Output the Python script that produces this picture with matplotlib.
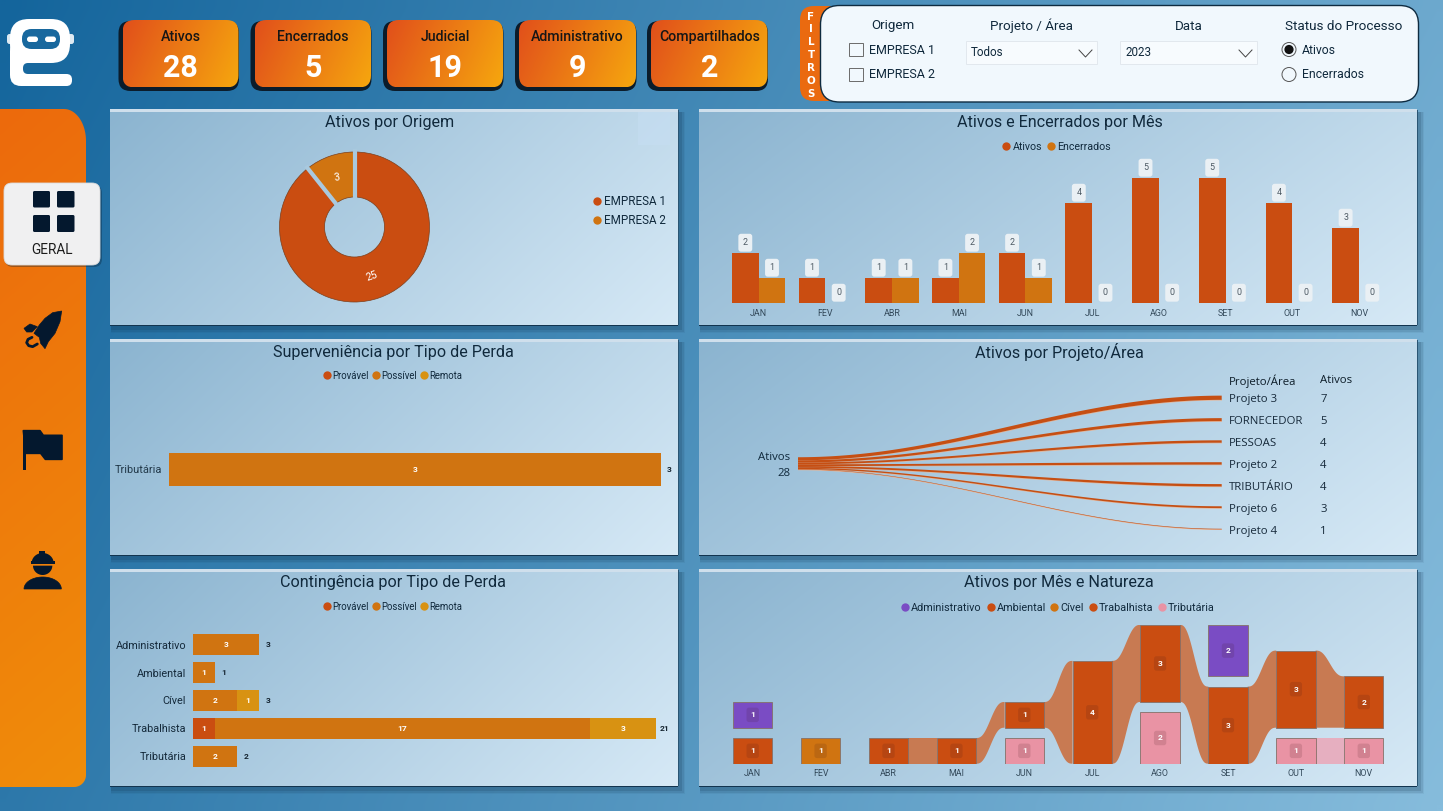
import numpy as np
import matplotlib
matplotlib.use("Agg")
import matplotlib.pyplot as plt
from matplotlib.patches import FancyBboxPatch, PathPatch, Polygon, Rectangle, Circle, Ellipse
from matplotlib.path import Path
from matplotlib.colors import to_rgb
from matplotlib import font_manager as fm

avail = {f.name for f in fm.fontManager.ttflist}
NARROW = 'Liberation Sans Narrow' if 'Liberation Sans Narrow' in avail else 'Roboto'
plt.rcParams['font.family'] = ['Roboto', 'DejaVu Sans']

# ---------- data ----------
kpi_names = ['Ativos', 'Encerrados', 'Judicial', 'Administrativo', 'Compartilhados']
kpi_values = [28, 5, 19, 9, 2]

origem_names = ['EMPRESA 1', 'EMPRESA 2']
origem_values = [25, 3]

months = ['JAN', 'FEV', 'ABR', 'MAI', 'JUN', 'JUL', 'AGO', 'SET', 'OUT', 'NOV']
ativos_mes = [2, 1, 1, 1, 2, 4, 5, 5, 4, 3]
encerrados_mes = [1, 0, 1, 2, 1, 0, 0, 0, 0, 0]

perda_names = ['Provável', 'Possível', 'Remota']
superv_cats = ['Tributária']
superv_provavel = [0]
superv_possivel = [3]
superv_remota = [0]

cont_cats = ['Administrativo', 'Ambiental', 'Cível', 'Trabalhista', 'Tributária']
cont_provavel = [0, 0, 0, 1, 0]
cont_possivel = [3, 1, 2, 17, 2]
cont_remota = [0, 0, 1, 3, 0]

projetos = ['Projeto 3', 'FORNECEDOR', 'PESSOAS', 'Projeto 2', 'TRIBUTÁRIO', 'Projeto 6', 'Projeto 4']
projetos_ativos = [7, 5, 4, 4, 4, 3, 1]

nat_administrativo = [1, 0, 0, 0, 0, 0, 0, 2, 0, 0]
nat_ambiental = [1, 0, 0, 0, 0, 0, 0, 0, 0, 0]
nat_civel = [0, 1, 0, 0, 0, 0, 0, 0, 0, 0]
nat_trabalhista = [0, 0, 1, 1, 1, 4, 3, 3, 3, 2]
nat_tributaria = [0, 0, 0, 0, 1, 0, 2, 0, 1, 1]
# bottom-to-top order of the natures in each month
nat_order = [['Ambiental', 'Administrativo'], ['Cível'], ['Trabalhista'], ['Trabalhista'],
             ['Tributária', 'Trabalhista'], ['Trabalhista'], ['Tributária', 'Trabalhista'],
             ['Trabalhista', 'Administrativo'], ['Tributária', 'Trabalhista'],
             ['Tributária', 'Trabalhista']]

# ---------- style ----------
W, H = 1443, 811
C_PROV = '#ca4d11'
C_POSS = '#d07411'
C_REM = '#d89212'
C_PINK = '#e993a4'
C_PURP = '#7a4cc4'
C_TEXT = '#10293c'
NAVY = '#04182e'

fig = plt.figure(figsize=(W / 100, H / 100), dpi=100)
root = fig.add_axes([0, 0, 1, 1], zorder=0)
root.set_xlim(0, W)
root.set_ylim(H, 0)
root.axis('off')


def ax_px(x0, y0, x1, y1):
    a = fig.add_axes([x0 / W, 1 - y1 / H, (x1 - x0) / W, (y1 - y0) / H], zorder=2)
    a.patch.set_visible(False)
    for s in a.spines.values():
        s.set_visible(False)
    a.tick_params(length=0)
    return a


def grad(x0, y0, x1, y1, c0, c1, wx=0.7, wy=0.3, clip=None, z=1):
    nx, ny = 128, 64
    xx, yy = np.meshgrid(np.linspace(0, 1, nx), np.linspace(0, 1, ny))
    t = (wx * xx + wy * yy)[..., None]
    img = np.array(to_rgb(c0)) * (1 - t) + np.array(to_rgb(c1)) * t
    im = root.imshow(img, extent=(x0, x1, y1, y0), aspect='auto', zorder=z, interpolation='bilinear')
    if clip is not None:
        im.set_clip_path(clip)
    root.set_xlim(0, W)
    root.set_ylim(H, 0)
    return im


def rbox(x0, y0, x1, y1, r, fc='none', ec='none', lw=0, z=2, alpha=None):
    p = FancyBboxPatch((x0, y0), x1 - x0, y1 - y0, boxstyle=f'round,pad=0,rounding_size={r}',
                       fc=fc, ec=ec, lw=lw, zorder=z, alpha=alpha)
    root.add_patch(p)
    return p


def T(x, y, s, size=8, color=C_TEXT, ha='center', weight='normal', z=6, family=None, **k):
    if family:
        k['family'] = family
    return root.text(x, y + 1, s, fontsize=size, color=color, ha=ha, va='center', weight=weight, zorder=z, **k)


def dots(items, y, size=6.5):
    for dx, tx, c, s in items:
        root.plot([dx], [y], 'o', ms=6, color=c, mec='none', zorder=6)
        T(tx, y, s, size=size, ha='left')


# page background
grad(0, 0, W, H, '#14659c', '#86bcdc', wx=0.78, wy=0.22, z=0)

# logo
LOGO_BG = '#18689e'
rbox(7, 34, 13, 44, 2.5, fc='#dfeaf2', z=2)
rbox(67, 34, 74, 44, 2.5, fc='#dfeaf2', z=2)
rbox(10, 19, 70, 63, 19, fc='white', z=3)
rbox(10, 40, 36, 86, 11, fc='white', z=3)
rbox(20, 74, 72, 86, 5.5, fc='white', z=3)
rbox(23, 63, 42, 74, 5, fc=LOGO_BG, z=3.5)
rbox(22, 29, 60, 49, 9.5, fc=LOGO_BG, z=4)
rbox(27, 36.5, 38, 42, 2.7, fc='white', z=5)
rbox(45, 36.5, 56, 42, 2.7, fc='white', z=5)

# KPI cards
kpi_x = [(122.5, 238.5), (254.5, 371), (387, 503), (519, 636), (651, 767.5)]
for (x0, x1), n, v in zip(kpi_x, kpi_names, kpi_values):
    rbox(x0 - 4, 21, x1 + 0.5, 91, 12, fc='#0b1c2b', z=2)
    p = rbox(x0, 20, x1, 87.5, 12, fc='none', z=3)
    grad(x0, 20, x1, 87.5, '#e14f1b', '#f6a70e', wx=0.8, wy=0.2, clip=p, z=3)
    T((x0 + x1) / 2, 36, n, size=10.2, color='#161616', weight='medium')
    T((x0 + x1) / 2, 67, str(v), size=22, color='white', weight='bold', family=NARROW)

# side bar
def sidebar_path(x1=86, y0=109, y1=787):
    a = np.linspace(0, np.pi / 2, 30)
    pts = [(0, y0)]
    pts += [(x1 - 22 + 22 * np.sin(t), y0 + 32 - 32 * np.cos(t)) for t in a]
    pts += [(x1 - 12 + 12 * np.cos(t), y1 - 12 + 12 * np.sin(t)) for t in a]
    pts += [(0, y1)]
    return pts


sb = Polygon(sidebar_path(), closed=True, fc='none', ec='none', zorder=2)
root.add_patch(sb)
grad(0, 109, 86, 787, '#ec6a0d', '#f08d0a', wx=0.1, wy=0.9, clip=sb, z=2)

# active button
rbox(5, 185, 102, 267, 8, fc='#0b2336', alpha=0.35, z=3)
rbox(4, 183, 100, 265, 8, fc='#f0f0f1', ec='#dcdcdc', lw=0.6, z=3)
for (xa, xb) in [(33, 50), (57, 74.5)]:
    for (ya, yb) in [(191, 207.5), (215, 232)]:
        rbox(xa, ya, xb, yb, 1.5, fc=NAVY, z=4)
T(51.5, 249.5, 'GERAL', size=9.8, color='#1c1c1c')

# rocket icon
ox, oy = 10, 300
def zp(pts):
    return [(ox + x / 3, oy + y / 3) for x, y in pts]
rocket = [(155, 33), (128, 38), (105, 55), (88, 75), (72, 100), (88, 112), (92, 130), (105, 146), (115, 125),
          (135, 100), (150, 65)]
root.add_patch(Polygon(zp(rocket), closed=True, fc=NAVY, ec=NAVY, lw=0.5, zorder=4))
root.add_patch(Polygon(zp([(42, 85), (60, 72), (82, 80), (66, 96), (50, 96)]), closed=True, fc=NAVY, ec=NAVY,
                       lw=0.5, zorder=4))
hook = np.array(zp([(66, 112), (54, 118), (50, 128), (56, 137), (68, 140), (82, 132)]))
root.plot(hook[:, 0], hook[:, 1], color=NAVY, lw=2, solid_capstyle='round', zorder=4)

# flag icon
ox, oy = 10, 420
root.add_patch(Polygon(zp([(40, 32), (90, 32), (100, 46), (156, 46), (156, 118), (106, 118), (92, 100), (47, 100)]),
                       closed=True, fc=NAVY, ec=NAVY, lw=1.2, joinstyle='round', zorder=4))
root.add_patch(Rectangle((ox + 38 / 3, oy + 30 / 3), 9 / 3, 120 / 3, fc=NAVY, ec='none', zorder=4))

# helmet icon
ox, oy = 10, 545
th = np.linspace(np.pi, 2 * np.pi, 40)
dome = [(98 + 33 * np.cos(t), 54 + 30 * np.sin(t)) for t in th]
root.add_patch(Polygon(zp(dome), closed=True, fc=NAVY, ec='none', zorder=4))
root.add_patch(Rectangle((ox + 64 / 3, oy + 49 / 3), 72 / 3, 7 / 3, fc=NAVY, ec='none', zorder=4))
root.add_patch(Rectangle((ox + 88 / 3, oy + 19 / 3), 18 / 3, 20 / 3, fc=NAVY, ec='none', zorder=4))
th2 = np.linspace(0, np.pi, 30)
face = [(98 + 29 * np.cos(t), 62 + 28 * np.sin(t)) for t in th2]
root.add_patch(Polygon(zp(face), closed=True, fc=NAVY, ec='none', zorder=4))
body = [(98 + 56 * np.cos(t), 132 - 36 * np.sin(t)) for t in th2]
root.add_patch(Polygon(zp(body), closed=True, fc=NAVY, ec=NAVY, lw=0.5, zorder=4))

# filter panel
rbox(800, 6, 850, 101, 14, fc='#ea6a10', z=2)
for i, ch in enumerate('FILTROS'):
    T(811, 15.5 + i * 12.9, ch, size=7.4, color='white', weight='bold', family='DejaVu Sans')
rbox(820.5, 5.5, 1418.5, 102, 19, fc='#f1f8fd', ec='#0e2b40', lw=1.0, z=3)
T(893, 25, 'Origem', size=9.6)
T(1031, 25, 'Projeto / Área', size=9.6)
T(1188.5, 25, 'Data', size=9.6)
T(1344, 25, 'Status do Processo', size=9.7)
for y, n in zip([49, 74], origem_names):
    root.add_patch(Rectangle((849, y - 6.5), 13.5, 13.5, fc='none', ec='#6a6a6a', lw=0.7, zorder=5))
    T(869, y, n, size=9, ha='left')
for x0, x1, s in [(965.5, 1097, 'Todos'), (1120, 1257, '2023')]:
    root.add_patch(Rectangle((x0, 41), x1 - x0, 22.5, fc='#f7fbfe', ec='#e2e8ee', lw=0.7, zorder=5))
    T(x0 + 5, 52, s, size=8.4, ha='left')
    root.plot([x1 - 18, x1 - 11.5, x1 - 5], [50, 57, 50], color='#444444', lw=0.7, zorder=6)
root.add_patch(Circle((1289, 49.5), 7, fc='none', ec='#555555', lw=0.7, zorder=5))
root.add_patch(Circle((1289, 49.5), 4.6, fc='#111111', ec='none', zorder=5))
root.add_patch(Circle((1289, 74.5), 7, fc='none', ec='#555555', lw=0.7, zorder=5))
T(1302, 49, 'Ativos', size=8.8, ha='left')
T(1302, 74, 'Encerrados', size=8.8, ha='left')

# chart panels
panels = [(110, 110, 678, 325), (699, 110, 1417, 325), (110, 340, 678, 555),
          (699, 340, 1417, 555), (110, 570, 678, 786), (699, 570, 1417, 786)]
for x0, y0, x1, y1 in panels:
    for d, a in [(6, 0.06), (4.5, 0.1), (3, 0.15)]:
        root.add_patch(Rectangle((x0 + 1, y0 + 2), x1 - x0 + d, y1 - y0 + d, fc='#0d2c45', alpha=a, ec='none', zorder=1))
    grad(x0, y0, x1, y1, '#8bb4d0', '#d6e9f6', wx=0.72, wy=0.28, z=2)
    root.add_patch(Rectangle((x0, y0 - 1), x1 - x0, 2.5, fc='#cfdfec', ec='none', zorder=3))
    root.add_patch(Rectangle((x0, y1 - 0.5), x1 - x0, 1.6, fc='#12344f', ec='none', zorder=3))
    root.add_patch(Rectangle((x1, y0), 1.4, y1 - y0, fc='#2a5573', ec='none', zorder=3))
root.add_patch(Rectangle((638, 112), 32, 33, fc='#c6def3', ec='none', alpha=0.5, zorder=3))

title_y = [121, 121, 351, 351, 582, 582]
title_x = [390, 1059.5, 393, 1059.5, 393, 1059]
titles = ['Ativos por Origem', 'Ativos e Encerrados por Mês', 'Superveniência por Tipo de Perda',
          'Ativos por Projeto/Área', 'Contingência por Tipo de Perda', 'Ativos por Mês e Natureza']
for xc, y, s in zip(title_x, title_y, titles):
    T(xc, y, s, size=11.6)

# --- donut ---
ax = ax_px(279.5, 152, 429.5, 302)
ax.set_xlim(-1, 1)
ax.set_ylim(-1, 1)
ax.set_aspect('equal')
wedges, _, autot = ax.pie(origem_values, colors=[C_PROV, C_POSS], startangle=90, counterclock=False, radius=1,
                          autopct=lambda p: f'{p * sum(origem_values) / 100:.0f}',
                          pctdistance=0.7, wedgeprops=dict(width=0.6, edgecolor='#7c3f1c', linewidth=0.5),
                          textprops=dict(color='white', fontsize=7.5), frame=False)
ax.set_xlim(-1, 1)
ax.set_ylim(-1, 1)
autot[0].set_rotation(20)
autot[1].set_rotation(10)
# gaps between slices, at the slice boundaries
bounds = 90 - 360 * np.cumsum(origem_values) / sum(origem_values)
for b in bounds:
    ra = np.radians(b)
    ax.plot([0.36 * np.cos(ra), 1.04 * np.cos(ra)], [0.36 * np.sin(ra), 1.04 * np.sin(ra)], color='#a9c9de', lw=3.0,
            solid_capstyle='butt', clip_on=False, zorder=3)
dots([(597.4, 604, C_PROV, origem_names[0])], 200.6, size=8.4)
dots([(597.4, 604, C_POSS, origem_names[1])], 219.6, size=8.4)

# --- monthly bars ---
ax = ax_px(725.3, 178, 1392.3, 303)
x = np.arange(len(months))
ax.set_xlim(-0.5, len(months) - 0.5)
ax.set_ylim(0, max(ativos_mes))
ax.set_yticks([])
ax.set_xticks(x, months)
ax.tick_params(axis='x', labelsize=6.4, labelcolor='#33495a', pad=4.5)
for off, vals, c in [(-0.2, ativos_mes, C_PROV), (0.2, encerrados_mes, C_POSS)]:
    ax.bar(x + off, vals, width=0.4, color=c)
    for xi, v in zip(x + off, vals):
        ax.annotate(str(v), (xi, v), xytext=(0, 7.4), textcoords='offset points', ha='center', va='center',
                    fontsize=6.4, color='#4d5a64', annotation_clip=False,
                    bbox=dict(boxstyle='round,pad=0.5,rounding_size=0.3', fc='#eaf0f4', ec='none'))
dots([(1005.8, 1012.5, C_PROV, 'Ativos'), (1051, 1057, C_POSS, 'Encerrados')], 146, size=7.7)

# --- superveniência ---
def hstack(ax, cats, prov, poss, rem, inner_size=6, total_pad=6):
    ys = np.arange(len(cats))
    left = np.zeros(len(cats))
    for vals, c in [(prov, C_PROV), (poss, C_POSS), (rem, C_REM)]:
        vals = np.array(vals, float)
        ax.barh(ys, vals, left=left, height=0.76, color=c)
        for yi, l, v in zip(ys, left, vals):
            if v > 0:
                ax.text(l + v / 2, yi, f'{v:.0f}', ha='center', va='center', color='white',
                        fontsize=inner_size, weight='bold')
        left = left + vals
    for yi, t in zip(ys, left):
        ax.annotate(f'{t:.0f}', (t, yi), xytext=(total_pad, 0), textcoords='offset points', ha='center', va='center',
                    fontsize=inner_size, weight='bold', color='#14232f', annotation_clip=False)
    ax.set_yticks(ys, cats)
    ax.set_xticks([])
    ax.invert_yaxis()


ax = ax_px(169, 447.5, 661, 491)
hstack(ax, superv_cats, superv_provavel, superv_possivel, superv_remota)
ax.set_xlim(0, 3)
ax.set_ylim(0.5, -0.5)
ax.tick_params(axis='y', labelsize=7.9, labelcolor='#22394a', pad=5)
for y in [375, 606]:
    dots([(326.5, 332, C_PROV, perda_names[0]), (376, 381.5, C_POSS, perda_names[1]),
          (423.5, 429, C_REM, perda_names[2])], y, size=6.9)

# --- contingência ---
ax = ax_px(193, 630.7, 656, 770.3)
hstack(ax, cont_cats, cont_provavel, cont_possivel, cont_remota, inner_size=6, total_pad=6.5)
ax.set_xlim(0, 21)
ax.set_ylim(4.5, -0.5)
ax.tick_params(axis='y', labelsize=7.8, labelcolor='#14293a', pad=5)

# --- decomposition / sankey ---
ax = ax_px(797.6, 386.8, 1221.7, 540)
ax.set_xlim(0, 1)
ax.set_ylim(6.5, -0.5)
ax.axis('off')
row_px = 21.88
total = sum(projetos_ativos)
src_unit = 0.44 / row_px
dst_unit = 0.6 / row_px
xs = np.linspace(0, 1, 200)
ease = (1 - np.cos(np.pi * xs)) / 2
cum = 3 - total * src_unit / 2
for i, (n, v) in enumerate(zip(projetos, projetos_ativos)):
    src_c = cum + v * src_unit / 2
    cum += v * src_unit
    ctr = src_c + (i - src_c) * ease
    half = (v * src_unit + (v * dst_unit - v * src_unit) * ease) / 2
    ax.fill_between(xs, ctr - half, ctr + half, color='#c64f13', ec='none', zorder=3)
    ax.plot(xs, ctr + half + 0.012, color='#eeb18c', lw=0.5, zorder=2)
    ax.annotate(n, (1, i), xytext=(5.3, -1.4), textcoords='offset points', ha='left', va='center', fontsize=8.2,
                family='Open Sans', color='#16293a', annotation_clip=False)
    ax.annotate(str(v), (1, i), xytext=(71, -1.4), textcoords='offset points', ha='left', va='center', fontsize=8.2,
                family='Open Sans', color='#16293a', annotation_clip=False)
ax.annotate('Projeto/Área', (1, -0.82), xytext=(5.3, -0.8), textcoords='offset points', ha='left', va='center',
            fontsize=8.2, family='Open Sans', color='#0c1c28', annotation_clip=False)
ax.annotate('Ativos', (1, -0.82), xytext=(71, -0.8), textcoords='offset points', ha='left', va='center',
            fontsize=8.2, family='Open Sans', color='#0c1c28', annotation_clip=False)
T(790.5, 456.5, 'Ativos', size=8.2, ha='right', family='Open Sans')
T(790.5, 472, str(total), size=8.2, ha='right', family='Open Sans')

# --- ribbon chart ---
nat_series = {'Administrativo': nat_administrativo, 'Ambiental': nat_ambiental, 'Cível': nat_civel,
              'Trabalhista': nat_trabalhista, 'Tributária': nat_tributaria}
nat_colors = {'Administrativo': C_PURP, 'Ambiental': C_PROV, 'Cível': C_POSS, 'Trabalhista': C_PROV,
              'Tributária': C_PINK}
ribbon_colors = {'Trabalhista': '#c87a52', 'Tributária': '#e6afc0'}
ax = ax_px(718.75, 624.9, 1397.75, 763.7)
ax.set_xlim(-0.5, len(months) - 0.5)
ax.set_ylim(0, 5.4)
ax.set_yticks([])
ax.set_xticks(np.arange(len(months)), months)
ax.tick_params(axis='x', labelsize=6.4, labelcolor='#33495a', pad=4)
gap = 0.4
bw = 0.579
pos = []
for m, order in enumerate(nat_order):
    base = 0.0
    place = {}
    for n in order:
        v = nat_series[n][m]
        place[n] = (base, base + v)
        base += v + gap
    pos.append(place)
for n, col in ribbon_colors.items():
    for m in range(len(months) - 1):
        if n in pos[m] and n in pos[m + 1]:
            a0, a1 = pos[m][n]
            b0, b1 = pos[m + 1][n]
            rx = np.linspace(m + bw / 2, m + 1 - bw / 2, 60)
            s = (rx - rx[0]) / (rx[-1] - rx[0])
            s = s ** 3 * (s * (6 * s - 15) + 10)
            ax.fill_between(rx, a0 + (b0 - a0) * s, a1 + (b1 - a1) * s, color=col, ec='none', zorder=1)
for m, place in enumerate(pos):
    for n, (a, b) in place.items():
        ax.bar(m, b - a, bottom=a, width=bw, color=nat_colors[n], edgecolor='#857068', linewidth=0.6, zorder=2)
        ax.text(m, (a + b) / 2, f'{b - a:.0f}', ha='center', va='center', fontsize=6, weight='bold', color='white',
                zorder=3, bbox=dict(boxstyle='round,pad=0.45,rounding_size=0.3', fc=(0.25, 0.1, 0.1, 0.14), ec='none'))
dots([(904.7, 911, C_PURP, 'Administrativo'), (990.7, 996.4, C_PROV, 'Ambiental'), (1054, 1060, C_POSS, 'Cível'),
      (1092.5, 1098.7, C_PROV, 'Trabalhista'), (1161.7, 1168, C_PINK, 'Tributária')], 607, size=7.8)

fig.savefig('out.png', dpi=100)
